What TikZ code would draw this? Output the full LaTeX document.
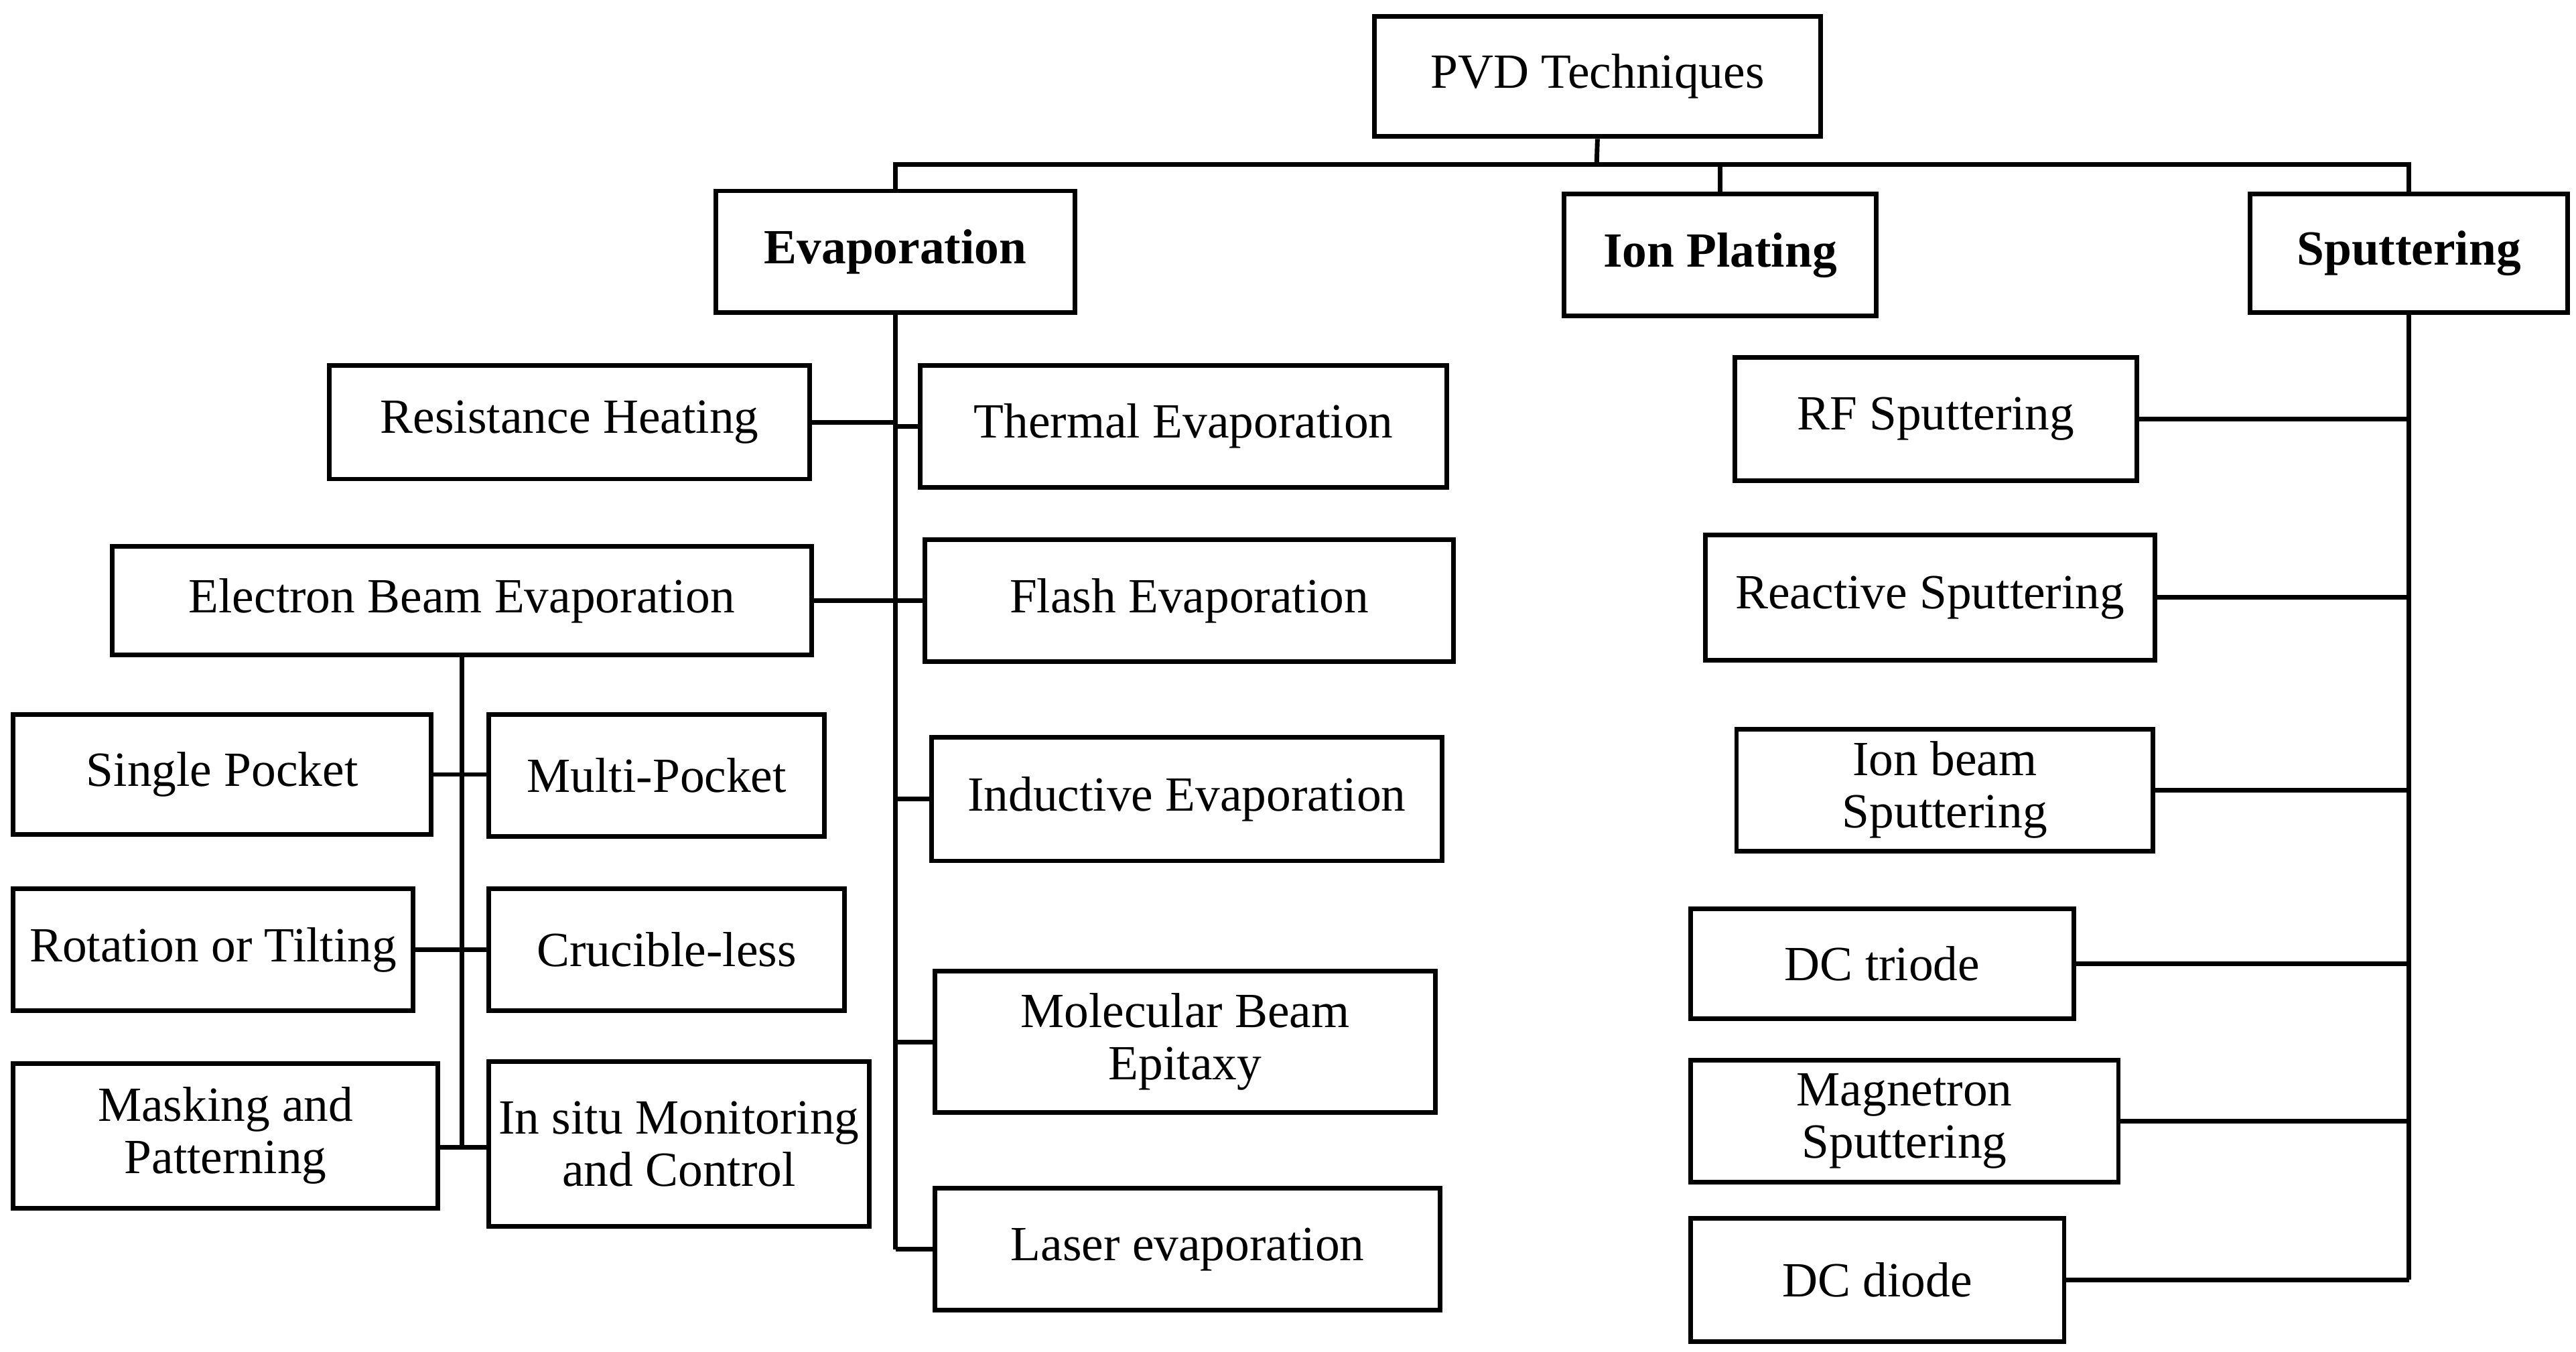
\documentclass[tikz,border=0pt]{standalone}
\usepackage{fontspec}
\setmainfont{Liberation Serif}
\begin{document}
\begin{tikzpicture}[x=0.02cm,y=0.02cm,line width=1.6pt,
  box/.style={draw,line width=1.6pt,inner sep=0pt,align=center,font=\fontsize{17}{18}\selectfont},
  bbox/.style={box,font=\fontsize{17}{18}\selectfont\bfseries}]
\newcommand\bx[7][]{\node[box,#1,minimum width={(#5-#3)*0.02cm},minimum height={(#6-#4)*0.02cm}] (#2) at ({(#3+#5)/2},{-(#4+#6)/2}) {#7};}
\useasboundingbox (0,0) rectangle (1565,-821);
\bx{pvd}{835}{10}{1106}{83}{PVD Techniques}
\bx[bbox]{ev}{435}{116}{653}{190}{Evaporation}
\bx[bbox]{ip}{950}{118}{1140}{192}{Ion Plating}
\bx[bbox]{spt}{1367}{118}{1560}{190}{Sputtering}
\bx{rh}{200}{222}{492}{291}{Resistance Heating}
\bx{te}{559}{222}{879}{296}{Thermal Evaporation}
\bx{ebe}{68}{332}{493}{398}{Electron Beam Evaporation}
\bx{fe}{562}{328}{883}{402}{Flash Evaporation}
\bx{ie}{566}{448}{876}{523}{Inductive Evaporation}
\bx{mbe}{568}{590}{872}{676}{Molecular Beam\\Epitaxy}
\bx{le}{568}{722}{875}{796}{Laser evaporation}
\bx{sp}{8}{434}{262}{507}{Single Pocket}
\bx{mp}{297}{434}{501}{508}{Multi-Pocket}
\bx{rt}{8}{540}{251}{614}{Rotation or Tilting}
\bx{cl}{297}{540}{513}{614}{Crucible-less}
\bx{mk}{8}{646}{266}{734}{Masking and\\Patterning}
\bx{is}{297}{645}{528}{745}{In situ Monitoring\\and Control}
\bx{rf}{1054}{217}{1298}{292}{RF Sputtering}
\bx{rs}{1036}{325}{1309}{401}{Reactive Sputtering}
\bx{ib}{1055}{443}{1308}{517}{Ion beam\\Sputtering}
\bx{dt}{1027}{552}{1260}{619}{DC triode}
\bx{ms}{1027}{644}{1287}{718}{Magnetron\\Sputtering}
\bx{dd}{1027}{740}{1254}{815}{DC diode}
\coordinate (bus) at (970,-100);
\coordinate (eb) at (280.5,-697);
\draw (pvd.south) -- (bus);
\draw (ev.north) |- (bus) -| (spt.north);
\draw (ip.north) -- (ip.north |- bus);
\draw (ev.south) -- (ev.south |- le.west);
\foreach \n in {rh,ebe}{\draw (\n.east) -- (ev.south |- \n.east);}
\foreach \n in {te,fe,ie,mbe,le}{\draw (\n.west) -- (ev.south |- \n.west);}
\draw (ebe.south) -- (eb);
\draw (sp.east) -- (sp.east -| mp.west);
\draw (rt.east) -- (rt.east -| cl.west);
\draw (mk.east |- eb) -- (is.west |- eb);
\draw (spt.south) -- (spt.south |- dd.east);
\foreach \n in {rf,rs,ib,dt,ms,dd}{\draw (\n.east) -- (spt.south |- \n.east);}
\end{tikzpicture}
\end{document}
